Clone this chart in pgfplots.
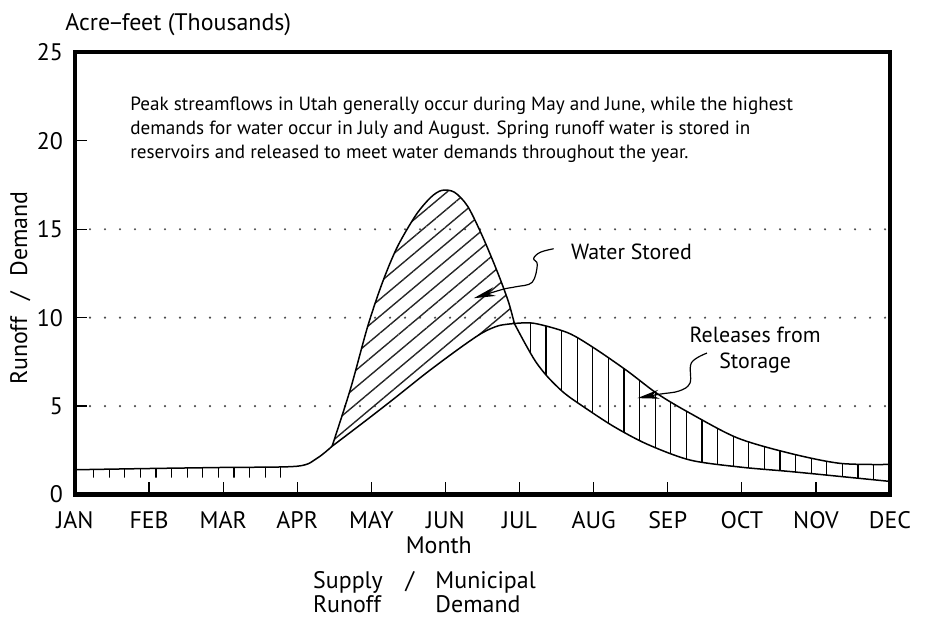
\documentclass[border=0pt]{standalone}
\usepackage{fontspec}
\setmainfont{PT Sans}
\usepackage{pgfplots}
\pgfplotsset{compat=1.18}
\usepgfplotslibrary{fillbetween}
\usetikzlibrary{patterns.meta, arrows.meta}

\begin{document}
\begin{tikzpicture}
\begin{axis}[
    scale only axis,
    width=407.5bp,
    height=221bp,
    xmin=0, xmax=11,
    ymin=0, ymax=25,
    clip=false,
    axis line style={line width=2bp},
    xtick={0,...,11},
    xticklabels={JAN,FEB,MAR,APR,MAY,JUN,JUL,AUG,SEP,OCT,NOV,DEC},
    ytick={0,5,...,25},
    xtick pos=left, ytick pos=left,
    tick align=inside,
    major tick length=6bp,
    tick style={black, line width=0.6bp},
    tick label style={font=\fontsize{12}{14}\selectfont},
    xticklabel style={anchor=base, yshift=-16.75bp},
    yticklabel style={xshift=-2.5bp},
    /pgf/number format/assume math mode=true,
    extra y ticks={5,10,15},
    extra y tick labels={},
    extra y tick style={grid=major, major tick length=0pt},
    major grid style={black!70, line width=1.2bp, line cap=round, dash pattern=on 0pt off 7.5bp},
    every axis plot/.append style={line width=0.75bp, black},
]

% winter: runoff and demand run together until late April
\addplot[smooth, tension=0.5] coordinates {
    (0,1.4) (1,1.47) (2,1.53) (3,1.6) (3.27,2.06) (3.47,2.73)
};
\addplot[draw=none, name path=wintertop] coordinates {(0.22,1.41) (2.78,1.58)};
\addplot[draw=none, name path=winterlow] coordinates {(0.22,0.95) (2.78,0.95)};

% May - early July: runoff above demand
\addplot[name path=demandA, smooth, tension=0.5] coordinates {
    (3.47,2.73) (3.9,4.1) (4.3,5.4) (4.75,6.9) (5.2,8.3) (5.5,9.15)
    (5.72,9.55) (5.93,9.67)
};
\addplot[name path=supplyA, smooth, tension=0.5] coordinates {
    (3.47,2.73) (3.72,6.0) (3.95,9.5) (4.15,12.0) (4.35,14.0) (4.6,15.8)
    (4.8,16.8) (4.95,17.2) (5.12,17.1) (5.3,16.3) (5.5,14.6) (5.7,12.6)
    (5.85,10.9) (5.93,9.67)
};

% July - December: demand above runoff
\addplot[name path=demandB, smooth, tension=0.5] coordinates {
    (5.93,9.67) (6.2,9.68) (6.65,9.15) (7.0,8.3) (7.45,7.0) (7.86,5.7)
    (8.3,4.6) (8.94,3.2) (9.65,2.33) (10.33,1.76) (11,1.7)
};
\addplot[name path=supplyB, smooth, tension=0.5] coordinates {
    (5.93,9.67) (6.08,8.5) (6.22,7.5) (6.38,6.65) (6.6,5.75) (6.85,5.0)
    (7.27,3.85) (7.72,2.85) (8.3,1.95) (8.98,1.55) (9.65,1.3)
    (10.33,1.02) (11,0.74)
};

% water stored
\addplot[draw=none, pattern={Lines[angle=40,distance=6.5bp,line width=0.7bp]}, pattern color=black!85]
    fill between[of=supplyA and demandA];
% releases from storage
\addplot[draw=none, pattern={Lines[angle=90,distance=7.8bp,line width=0.55bp]}, pattern color=black]
    fill between[of=demandB and supplyB];
\addplot[draw=none, pattern={Lines[angle=90,distance=7.8bp,line width=0.55bp]}, pattern color=black]
    fill between[of=wintertop and winterlow];

% arrows
\draw[line width=0.6bp, -{Stealth[length=11bp,width=4.5bp]}] plot[smooth, tension=0.6] coordinates {
    (6.46,13.9) (6.28,13.7) (6.19,13.35) (6.24,13.0) (6.17,12.0) (5.95,11.75) (5.77,11.6) (5.38,11.1)};
\draw[line width=0.6bp, -{Stealth[length=11bp,width=4.5bp]}] plot[smooth, tension=0.6] coordinates {
    (8.53,8.0) (8.32,7.45) (8.3,6.3) (8.15,5.85) (7.9,5.68) (7.59,5.45)};

% labels
\node[anchor=base west, inner sep=0, font=\fontsize{12}{14}\selectfont] at (-0.135,26.27) {Acre\kern-1bp--\kern-1bp feet (Thousands)};
\node[rotate=90, inner sep=0, font=\fontsize{12}{14}\selectfont] at (-0.74,11.68) {Runoff\hspace{8bp}/\hspace{8bp}Demand};
\node[anchor=north west, inner sep=0, align=left, font=\fontsize{9.6}{12.25}\selectfont] at (0.742,22.54)
    {Peak streamflows in Utah generally occur during May and June, while the highest\\
     demands for water occur in July and August. Spring runoff water is stored in\\
     reservoirs and released to meet water demands throughout the year.};
\node[anchor=west, inner sep=0, font=\fontsize{11}{13}\selectfont] at (6.69,13.72) {Water Stored};
\node[align=center, inner sep=0, font=\fontsize{11}{13}\selectfont] at (9.18,8.17) {Releases from\\Storage};

\node[anchor=base, inner sep=0, font=\fontsize{12}{14}\selectfont] at (4.91,-3.31) {Month};
\node[anchor=base west, inner sep=0, font=\fontsize{12}{14}\selectfont] at (3.21,-5.29) {Supply};
\node[anchor=base, inner sep=0, font=\fontsize{12}{14}\selectfont] at (4.52,-5.29) {/};
\node[anchor=base west, inner sep=0, font=\fontsize{12}{14}\selectfont] at (4.86,-5.29) {Municipal};
\node[anchor=base west, inner sep=0, font=\fontsize{12}{14}\selectfont] at (3.21,-6.70) {Runoff};
\node[anchor=base west, inner sep=0, font=\fontsize{12}{14}\selectfont] at (4.86,-6.70) {Demand};

\end{axis}
\path (-37.5bp,-61.75bp) rectangle (426bp,247.25bp);
\end{tikzpicture}
\end{document}
